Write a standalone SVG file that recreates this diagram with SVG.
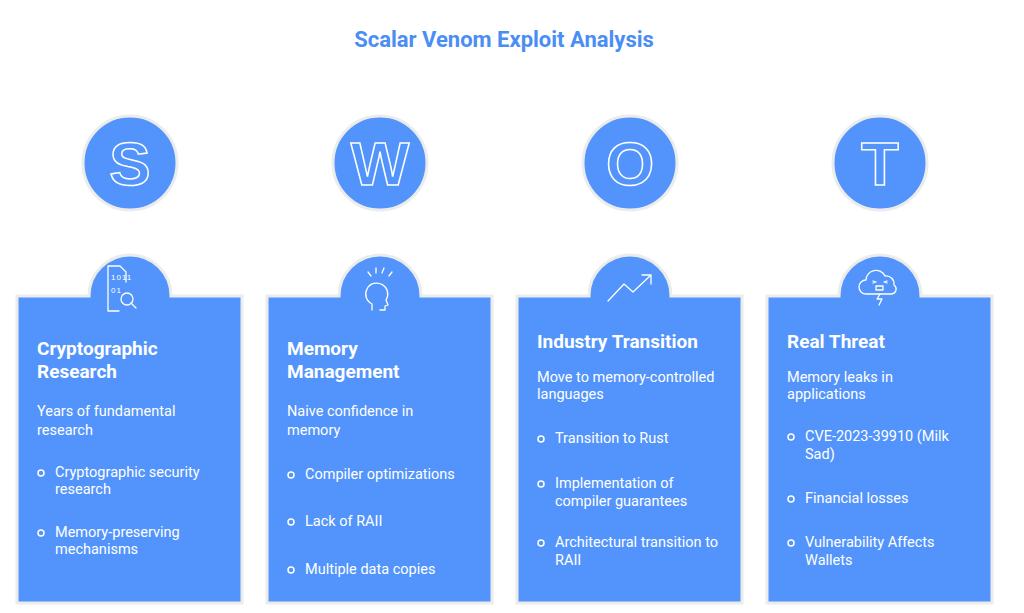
<svg xmlns="http://www.w3.org/2000/svg" width="1024" height="613" viewBox="0 0 1024 613">
<defs><style>
.c{fill:#5294fb;stroke:#ececec;stroke-width:3}
.l{font:bold 62px "Liberation Sans",Arial,sans-serif;fill:none;stroke:#fff;stroke-width:1.5;text-anchor:middle}
.t{font:bold 19px Roboto,"Liberation Sans",sans-serif;fill:#fff}
.d{font:14.5px Roboto,"Liberation Sans",sans-serif;fill:#fff}
.b{fill:none;stroke:#fff;stroke-width:1.5}
.i{fill:none;stroke:#fff;stroke-width:1.3;stroke-linecap:round;stroke-linejoin:round}
.m{font:8px "Liberation Sans",sans-serif;fill:#fff;letter-spacing:1px}
</style></defs>
<rect width="1024" height="613" fill="#fff"/>
<text x="504" y="47" text-anchor="middle" style="font:bold 22px Roboto,'Liberation Sans',sans-serif;fill:#4a8ef5">Scalar Venom Exploit Analysis</text>
<g id="S">
<circle class="c" cx="130" cy="163" r="47"/><text class="l" x="130" y="185">S</text>
<path class="c" d="M17 296H89A41 41 0 0 1 171 296H242V603H17Z"/>
<g class="i"><path d="M108 266h12l6 6v10M119 311h-11v-45"/><circle cx="127" cy="299" r="6"/><path d="M131 303l5 5"/></g>
<text class="m" x="111" y="280">1011</text><text class="m" x="111" y="293">01</text>
<text class="t" x="37" y="355">Cryptographic</text><text class="t" x="37" y="378">Research</text>
<text class="d" x="37" y="416">Years of fundamental</text><text class="d" x="37" y="435">research</text>
<circle class="b" cx="41" cy="473" r="3"/><text class="d" x="55" y="477">Cryptographic security</text><text class="d" x="55" y="494">research</text>
<circle class="b" cx="41" cy="533" r="3"/><text class="d" x="55" y="537">Memory-preserving</text><text class="d" x="55" y="554">mechanisms</text>
</g>
<g id="W">
<circle class="c" cx="380" cy="163" r="47"/><text class="l" x="380" y="185">W</text>
<path class="c" d="M267 296H339A41 41 0 0 1 421 296H492V603H267Z"/>
<g class="i"><path d="M372 310v-6a11 11 0 1 1 14-4l2 5-3 1v4h-5"/><path d="M368 272l3 4M376 268v5M384 268l-2 5M392 272l-3 4"/></g>
<text class="t" x="287" y="355">Memory</text><text class="t" x="287" y="378">Management</text>
<text class="d" x="287" y="416">Naive confidence in</text><text class="d" x="287" y="435">memory</text>
<circle class="b" cx="291" cy="475" r="3"/><text class="d" x="305" y="479">Compiler optimizations</text>
<circle class="b" cx="291" cy="522" r="3"/><text class="d" x="305" y="526">Lack of RAII</text>
<circle class="b" cx="291" cy="570" r="3"/><text class="d" x="305" y="574">Multiple data copies</text>
</g>
<g id="O">
<circle class="c" cx="630" cy="163" r="47"/><text class="l" x="630" y="185">O</text>
<path class="c" d="M517 296H589A41 41 0 0 1 671 296H742V603H517Z"/>
<g class="i"><path d="M608 301l16-17 9 8 18-17M642 275h9v9"/></g>
<text class="t" x="537" y="348">Industry Transition</text>
<text class="d" x="537" y="382">Move to memory-controlled</text><text class="d" x="537" y="399">languages</text>
<circle class="b" cx="541" cy="439" r="3"/><text class="d" x="555" y="443">Transition to Rust</text>
<circle class="b" cx="541" cy="484" r="3"/><text class="d" x="555" y="488">Implementation of</text><text class="d" x="555" y="506">compiler guarantees</text>
<circle class="b" cx="541" cy="543" r="3"/><text class="d" x="555" y="547">Architectural transition to</text><text class="d" x="555" y="565">RAII</text>
</g>
<g id="T">
<circle class="c" cx="880" cy="163" r="47"/><text class="l" x="880" y="185">T</text>
<path class="c" d="M767 296H839A41 41 0 0 1 921 296H992V603H767Z"/>
<g class="i"><path d="M866 294a7 7 0 0 1 0-14a10 10 0 0 1 19-4a8 8 0 0 1 9 9a5 5 0 0 1-2 9z"/><path d="M880 294l-3 5h5l-3 6"/><rect x="876" y="286" width="7" height="4"/><path d="M873 281l3 1-3 1M887 281l-3 1 3 1"/></g>
<text class="t" x="787" y="348">Real Threat</text>
<text class="d" x="787" y="382">Memory leaks in</text><text class="d" x="787" y="399">applications</text>
<circle class="b" cx="791" cy="437" r="3"/><text class="d" x="805" y="441">CVE-2023-39910 (Milk</text><text class="d" x="805" y="459">Sad)</text>
<circle class="b" cx="791" cy="499" r="3"/><text class="d" x="805" y="503">Financial losses</text>
<circle class="b" cx="791" cy="543" r="3"/><text class="d" x="805" y="547">Vulnerability Affects</text><text class="d" x="805" y="565">Wallets</text>
</g>
<g id="connectors"/>
</svg>
